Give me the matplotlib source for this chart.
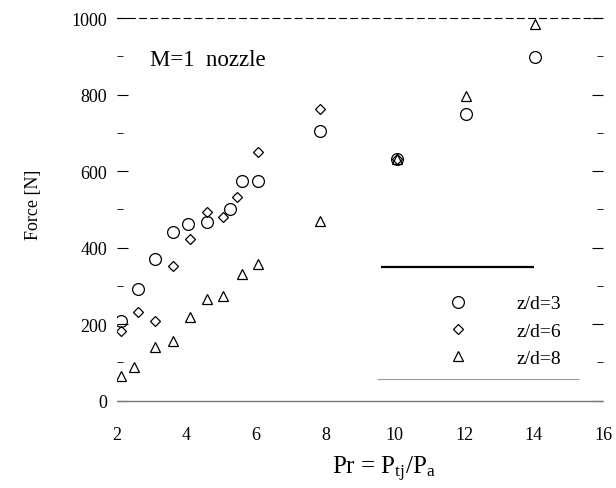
import matplotlib
matplotlib.use("Agg")
import matplotlib.pyplot as plt
from matplotlib.ticker import MultipleLocator

plt.rcParams['font.family'] = ['Liberation Serif', 'DejaVu Serif']
plt.rcParams['mathtext.fontset'] = 'custom'
plt.rcParams['mathtext.rm'] = 'Liberation Serif'
plt.rcParams['mathtext.it'] = 'Liberation Serif'

# z/d = 3 (circles)
pr_zd3 = [2.1, 2.6, 3.1, 3.6, 4.05, 4.6, 5.25, 5.6, 6.05, 7.85, 10.05, 12.05, 14.05]
f_zd3 = [209, 292, 371, 441, 462, 467, 500, 574, 574, 705, 632, 749, 898]
# z/d = 6 (diamonds)
pr_zd6 = [2.1, 2.6, 3.1, 3.6, 4.1, 4.6, 5.05, 5.45, 6.05, 7.85, 10.05]
f_zd6 = [183, 232, 209, 352, 423, 493, 480, 532, 650, 762, 632]
# z/d = 8 (triangles)
pr_zd8 = [2.1, 2.5, 3.1, 3.6, 4.1, 4.6, 5.05, 5.6, 6.05, 7.85, 10.05, 12.05, 14.05]
f_zd8 = [65, 89, 141, 157, 219, 266, 274, 332, 358, 470, 632, 797, 984]

x_ticks = [2, 4, 6, 8, 10, 12, 14, 16]
y_ticks = [0, 200, 400, 600, 800, 1000]

fig = plt.figure(figsize=(6.16, 4.89), dpi=100)
ax = fig.add_axes([0.19, 0.155, 0.789, 0.806])

mk = dict(linestyle='none', markerfacecolor='none', markeredgecolor='black', markeredgewidth=0.9)
ax.plot(pr_zd3, f_zd3, marker='o', markersize=8.5, label='z/d=3', **mk)
ax.plot(pr_zd6, f_zd6, marker='D', markersize=5.5, label='z/d=6', **mk)
ax.plot(pr_zd8, f_zd8, marker='^', markersize=7.5, label='z/d=8', **mk)

ax.axhline(0, color='#777777', lw=1.0)
ax.hlines(350, 9.6, 14.0, color='black', lw=1.6)
ax.hlines(57, 9.5, 15.3, color='#999999', lw=0.8)

ax.set_xlim(2, 16)
ax.set_ylim(-30, 1000)
ax.set_xticks(x_ticks)
ax.set_yticks(y_ticks)
ax.yaxis.set_minor_locator(MultipleLocator(100))
ax.tick_params(axis='both', which='both', direction='in', labelsize=13)
ax.tick_params(axis='x', length=0, pad=10)
ax.tick_params(axis='y', which='major', length=8, right=True, pad=7)
ax.tick_params(axis='y', which='minor', length=4, right=True)

for s in ['left', 'bottom']:
    ax.spines[s].set_visible(False)
ax.spines['top'].set_linestyle((0, (6, 4)))
ax.spines['top'].set_linewidth(0.8)
ax.spines['right'].set_visible(False)

ax.text(4.62, 893, 'M=1  nozzle', fontsize=16.5, ha='center', va='center')

ax.set_xlabel(r'Pr = P$_{\mathrm{tj}}$/P$_{\mathrm{a}}$', fontsize=18)
ax.xaxis.set_label_coords(0.55, -0.105)
ax.set_ylabel('Force [N]', fontsize=13)
ax.yaxis.set_label_coords(-0.155, 0.53)

leg = ax.legend(loc='lower right', bbox_to_anchor=(0.95, 0.07), frameon=False,
                fontsize=14, handletextpad=2.0, labelspacing=0.5, markerfirst=True)

fig.savefig('out.png', dpi=100)
